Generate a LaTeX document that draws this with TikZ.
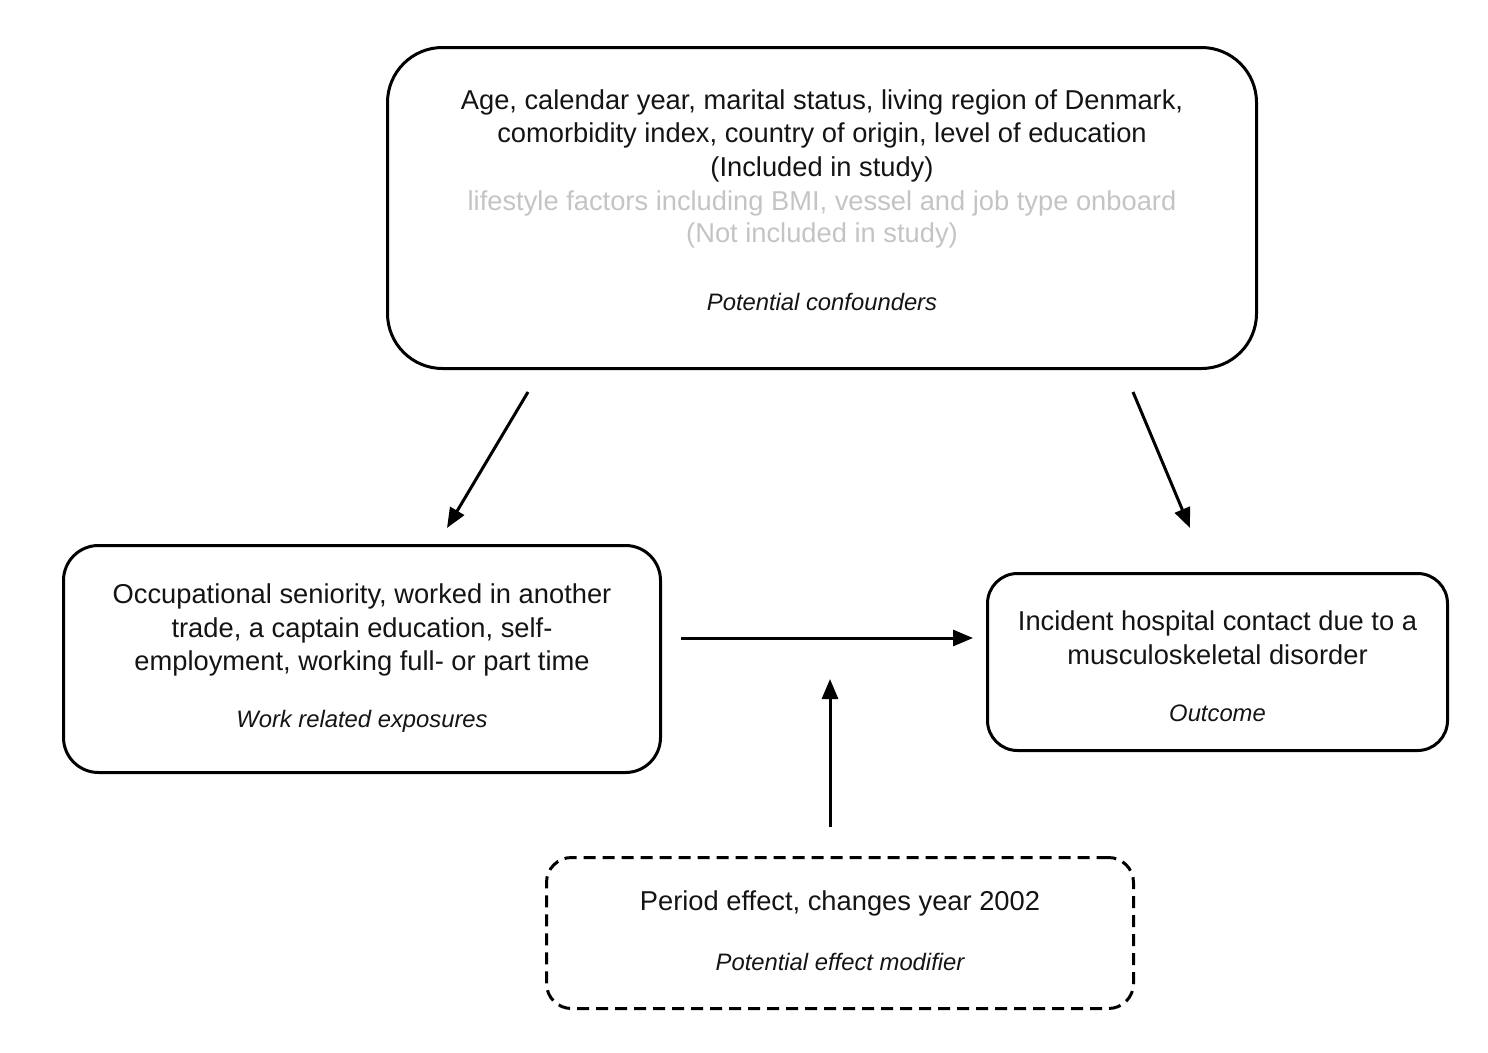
\documentclass[tikz,border=0pt]{standalone}
\usepackage{fontspec}
\setmainfont{Liberation Sans}
\usetikzlibrary{arrows.meta}
\definecolor{txtgray}{RGB}{196,196,196}
\definecolor{txtblack}{RGB}{20,20,20}
\begin{document}
\begin{tikzpicture}[x=1pt,y=-1pt,
  box/.style={draw=black, line width=3pt, rounded corners=#1, inner sep=0pt},
  maintxt/.style={align=center, text=txtblack, inner sep=0pt, font=\fontsize{27.3}{33.5}\selectfont},
  graytxt/.style={align=center, text=txtgray, inner sep=0pt, font=\fontsize{27.3}{32}\selectfont},
  labtxt/.style={text=txtblack, inner sep=0pt, font=\fontsize{23.8}{28}\selectfont\itshape},
  arr/.style={line width=3pt, -{Triangle[length=20pt,width=16pt]}}]
\useasboundingbox (0,0) rectangle (1488,1052);

% boxes
\node[box=55pt, minimum width=869pt, minimum height=321pt] (conf) at (822,208) {};
\node[box=35pt, minimum width=597pt, minimum height=227pt] (expo) at (362,659) {};
\node[box=30pt, minimum width=460pt, minimum height=177pt] (outc) at (1217.5,662) {};
\node[box=25pt, dashed, dash pattern=on 12pt off 7pt, minimum width=587pt, minimum height=151pt] (modi) at (840,933) {};

% texts
\node[maintxt] (conft) at (822,135.5) {Age, calendar year, marital status, living region of Denmark,\\comorbidity index, country of origin, level of education\\(Included in study)};
\node[graytxt] (confg) at (822,219.5) {lifestyle factors including BMI, vessel and job type onboard\\(Not included in study)};
\node[labtxt] (confl) at (822,302) {Potential confounders};

\node[maintxt] (expot) at (362,630) {Occupational seniority, worked in another\\trade, a captain education, self-\\employment, working full- or part time};
\node[labtxt] (expol) at (362,721.5) {Work related exposures};

\node[maintxt] (outct) at (1217.5,637.5) {Incident hospital contact due to a\\musculoskeletal disorder};
\node[labtxt] (outcl) at (1217.5,713) {Outcome};

\node[maintxt] (modit) at (840,903.5) {Period effect, changes year 2002};
\node[labtxt] (modil) at (840,962) {Potential effect modifier};

% arrow end points
\coordinate (a1s) at (528,392);
\coordinate (a1e) at (447,528);
\coordinate (a2s) at (1133,392);
\coordinate (a2e) at (1190,528);
\coordinate (a3s) at (681,638);
\coordinate (a3e) at (973,638);
\coordinate (a4s) at (830,827);
\coordinate (a4e) at (830,679);

\draw[arr] (a1s) -- (a1e);
\draw[arr] (a2s) -- (a2e);
\draw[arr] (a3s) -- (a3e);
\draw[arr] (a4s) -- (a4e);
\end{tikzpicture}
\end{document}
